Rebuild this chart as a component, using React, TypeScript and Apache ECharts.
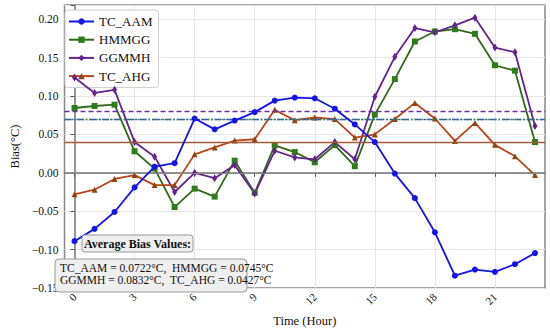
import React, { useEffect, useRef } from "react";
import * as echarts from "echarts";

const hours = [0, 1, 2, 3, 4, 5, 6, 7, 8, 9, 10, 11, 12, 13, 14, 15, 16, 17, 18, 19, 20, 21, 22, 23];
const tcAam = [-0.089, -0.073, -0.051, -0.019, 0.008, 0.0125, 0.0707, 0.0566, 0.068, 0.079, 0.094, 0.098, 0.097, 0.0835, 0.063, 0.04, -0.001, -0.033, -0.0775, -0.134, -0.126, -0.129, -0.119, -0.1045];
const hmmgg = [0.0844, 0.087, 0.0887, 0.028, 0.0055, -0.0446, -0.0206, -0.031, 0.0158, -0.026, 0.0356, 0.027, 0.0137, 0.036, 0.0086, 0.0758, 0.122, 0.171, 0.184, 0.187, 0.181, 0.14, 0.133, 0.04];
const ggmmh = [0.124, 0.104, 0.108, 0.04, 0.021, -0.025, 0.0, -0.007, 0.01, -0.027, 0.0287, 0.02, 0.0176, 0.04, 0.0176, 0.099, 0.151, 0.1885, 0.183, 0.192, 0.202, 0.163, 0.157, 0.061];
const tcAhg = [-0.028, -0.022, -0.008, -0.003, -0.016, -0.016, 0.024, 0.033, 0.042, 0.0437, 0.082, 0.0685, 0.072, 0.07, 0.0459, 0.05, 0.07, 0.091, 0.0707, 0.0415, 0.065, 0.0364, 0.0215, -0.003];

const seriesNames = ["TC_AAM", "HMMGG", "GGMMH", "TC_AHG"];
const avgValues = [0.0722, 0.0745, 0.0832, 0.0427];
const xTickValues = [0, 3, 6, 9, 12, 15, 18, 21];
const yMin = -0.15;
const yMax = 0.2185;
const yInterval = 0.05;
const annotationTitle = "Average Bias Values:";
const annotationLines = [
  "TC_AAM = 0.0722°C,  HMMGG = 0.0745°C",
  "GGMMH = 0.0832°C,  TC_AHG = 0.0427°C",
];

const FONT = '"Liberation Serif", "DejaVu Serif", serif';

function pairs(vals: number[]) {
  return hours.map((h, i) => [h, vals[i]]);
}

export default function App() {
  const ref = useRef<HTMLDivElement>(null);
  useEffect(() => {
    if (!ref.current) return;
    const chart = echarts.init(ref.current, undefined, { renderer: "svg" });
    const avgLine = (v: number, color: string, type: any, width = 1.3) => ({
      silent: true,
      symbol: "none",
      label: { show: false },
      lineStyle: { color, type, width },
      data: [{ yAxis: v }],
    });
    chart.setOption({
      animation: false,
      textStyle: { fontFamily: FONT },
      grid: { left: 49, right: 5, top: 5, bottom: 40, show: true, borderColor: "#888", borderWidth: 1.5 },
      legend: {
        orient: "vertical",
        left: 65,
        top: 10,
        data: seriesNames,
        itemWidth: 25,
        itemHeight: 8,
        itemGap: 5.2,
        padding: [5, 6, 5, 3],
        backgroundColor: "#fff",
        borderColor: "#ccc",
        borderWidth: 1,
        borderRadius: 3,
        textStyle: { fontFamily: FONT, fontSize: 13, color: "#111" },
      },
      xAxis: {
        type: "value",
        min: -0.5,
        max: 23.5,
        name: "Time (Hour)",
        nameLocation: "middle",
        nameGap: 26,
        nameTextStyle: { fontFamily: FONT, fontSize: 12.5, color: "#111" },
        axisLine: { show: true, lineStyle: { color: "#777", width: 1.5 } },
        axisTick: { show: true, length: 4, customValues: xTickValues, lineStyle: { color: "#555" } },
        axisLabel: {
          customValues: xTickValues,
          rotate: 45,
          margin: 7,
          fontFamily: FONT,
          fontSize: 11,
          color: "#111",
        },
        splitLine: { show: true, lineStyle: { color: "#e6e6e6", width: 1 } },
      },
      yAxis: {
        type: "value",
        min: yMin,
        max: yMax,
        interval: yInterval,
        name: "Bias(°C)",
        nameLocation: "middle",
        nameGap: 35,
        nameTextStyle: { fontFamily: FONT, fontSize: 12.5, color: "#111" },
        axisLine: { show: true, lineStyle: { color: "#777", width: 1.5 } },
        axisTick: { show: true, length: 4, lineStyle: { color: "#555" } },
        axisLabel: {
          margin: 6,
          fontFamily: FONT,
          fontSize: 11.5,
          color: "#111",
          formatter: (v: number) => {
            const k = Math.round(v / yInterval);
            if (Math.abs(k * yInterval - v) > 1e-6) return "";
            return (v < -1e-9 ? "\u2212" : "") + Math.abs(v).toFixed(2);
          },
        },
        splitLine: { show: true, lineStyle: { color: "#e6e6e6", width: 1 } },
      },
      series: [
        {
          name: seriesNames[0],
          type: "line",
          data: pairs(tcAam),
          symbol: "circle",
          symbolSize: 6,
          lineStyle: { color: "#1414e6", width: 1.8 },
          itemStyle: { color: "#1414e6" },
          markLine: avgLine(avgValues[0], "#3a4fd8", [7, 2, 1.5, 2]),
          z: 5,
        },
        {
          name: seriesNames[1],
          type: "line",
          data: pairs(hmmgg),
          symbol: "rect",
          symbolSize: 6,
          lineStyle: { color: "#33691a", width: 1.8 },
          itemStyle: { color: "#2e7d1a" },
          markLine: avgLine(avgValues[1], "#3d8a2a", [1.5, 2]),
          z: 4,
        },
        {
          name: seriesNames[2],
          type: "line",
          data: pairs(ggmmh),
          symbol: "diamond",
          symbolSize: [5, 8],
          lineStyle: { color: "#64248c", width: 1.8 },
          itemStyle: { color: "#64248c" },
          markLine: avgLine(avgValues[2], "#6a2ea0", [5, 3]),
          z: 4,
        },
        {
          name: seriesNames[3],
          type: "line",
          data: pairs(tcAhg),
          symbol: "triangle",
          symbolSize: 6,
          lineStyle: { color: "#b8441a", width: 1.8 },
          itemStyle: { color: "#8b4513" },
          markLine: {
            silent: true,
            symbol: "none",
            label: { show: false },
            data: [
              { yAxis: avgValues[3], lineStyle: { color: "#a35a3a", type: "solid", width: 1.3 } },
              { yAxis: 0, lineStyle: { color: "#888", type: "solid", width: 1.2 } },
            ],
          },
          z: 4,
        },
      ],
      graphic: [
        {
          type: "rect",
          shape: { x: 82, y: 235, width: 111, height: 17, r: 3 },
          style: { fill: "#efefef", stroke: "#9a9a9a", lineWidth: 1 },
          z: 100,
        },
        {
          type: "text",
          x: 137.5,
          y: 243.5,
          style: {
            text: annotationTitle,
            font: "bold 12px " + FONT,
            fill: "#111",
            align: "center",
            verticalAlign: "middle",
          },
          z: 101,
        },
        {
          type: "rect",
          shape: { x: 55, y: 259, width: 192, height: 33, r: 4 },
          style: { fill: "#efefef", stroke: "#9a9a9a", lineWidth: 1 },
          z: 100,
        },
        {
          type: "text",
          x: 60,
          y: 268,
          style: {
            text: annotationLines[0],
            font: "11.5px " + FONT,
            fill: "#111",
            align: "left",
            verticalAlign: "middle",
          },
          z: 101,
        },
        {
          type: "text",
          x: 60,
          y: 280,
          style: {
            text: annotationLines[1],
            font: "11.5px " + FONT,
            fill: "#111",
            align: "left",
            verticalAlign: "middle",
          },
          z: 101,
        },
      ],
    });
    return () => chart.dispose();
  }, []);
  return (
    <div
      ref={ref}
      style={{ position: "fixed", left: 0, top: 0, width: 550, height: 332, background: "#fff" }}
    />
  );
}
